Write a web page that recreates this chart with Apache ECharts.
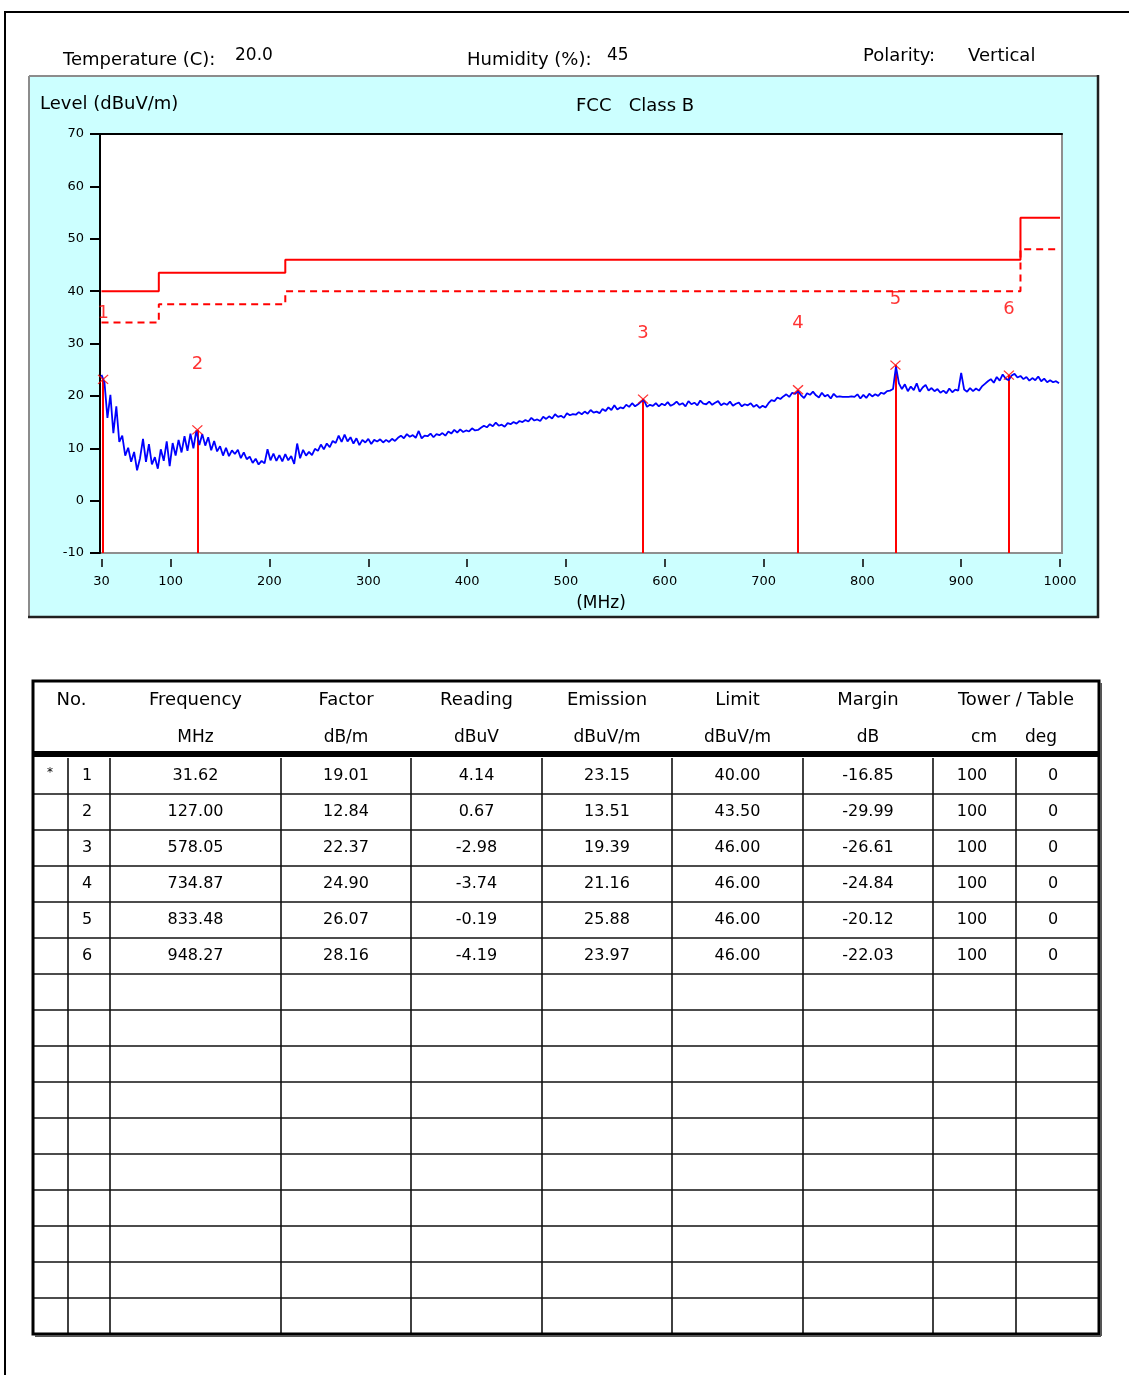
<!DOCTYPE html>
<html>
<head>
<meta charset="utf-8">
<title>Radiated Emission 30-1000 MHz</title>
<script src="https://cdn.jsdelivr.net/npm/echarts@6.0.0/dist/echarts.min.js"></script>
<style>
  html, body { margin: 0; padding: 0; background: #ffffff; }
  #main { width: 1129px; height: 1375px; }
</style>
</head>
<body>
<div id="main"></div>
<script>
// ---- test conditions ----
const temperatureC = '20.0';
const humidityPct = '45';
const polarity = 'Vertical';
const limitTitle = 'FCC   Class B';
const yAxisTitle = 'Level (dBuV/m)';
const xAxisTitle = '(MHz)';

// ---- FCC Class B limit: band edges (MHz) and levels (dBuV/m) ----
const limitEdges = [30, 88, 216, 960, 1000];
const limitLevels = [40, 43.5, 46, 54];
const limitMinus6 = [34, 37.5, 40, 48];

// ---- axis ticks ----
const xTicks = [30, 100, 200, 300, 400, 500, 600, 700, 800, 900, 1000];

// ---- peak list ----
const peakNo = [1, 2, 3, 4, 5, 6];
const peakFreq = [31.62, 127.00, 578.05, 734.87, 833.48, 948.27];
const peakFactor = [19.01, 12.84, 22.37, 24.90, 26.07, 28.16];
const peakReading = [4.14, 0.67, -2.98, -3.74, -0.19, -4.19];
const peakEmission = [23.15, 13.51, 19.39, 21.16, 25.88, 23.97];
const peakLimit = [40.00, 43.50, 46.00, 46.00, 46.00, 46.00];
const peakMargin = [-16.85, -29.99, -26.61, -24.84, -20.12, -22.03];
const peakTower = [100, 100, 100, 100, 100, 100];
const peakTurntable = [0, 0, 0, 0, 0, 0];
const worstPeakFlag = ['*', '', '', '', '', ''];
const emptyRows = 10;

// ---- table headings ----
const headTop = ['No.', 'Frequency', 'Factor', 'Reading', 'Emission', 'Limit', 'Margin', 'Tower / Table'];
const headUnits = ['MHz', 'dB/m', 'dBuV', 'dBuV/m', 'dBuV/m', 'dB', 'cm', 'deg'];

// ---- measured sweep: one reading every 3 MHz from 30 MHz ----
const sweepStartMHz = 30;
const sweepStepMHz = 3;
const sweepLevel = [
  24.0, 22.6, 15.8, 20.2, 12.9, 18.0, 11.2, 12.4, 8.6, 10.1,
  7.4, 9.3, 5.8, 8.1, 11.8, 7.4, 10.8, 6.9, 8.3, 6.1,
  9.8, 7.6, 11.3, 6.6, 11.0, 8.6, 11.6, 9.2, 12.3, 9.5,
  12.8, 10.0, 13.4, 10.6, 12.7, 10.5, 12.1, 9.6, 11.4, 9.4,
  10.4, 8.6, 10.1, 8.5, 9.6, 8.9, 9.7, 8.1, 9.2, 7.9,
  8.4, 7.2, 8.0, 6.9, 7.6, 7.1, 9.8, 7.7, 9.0, 7.6,
  8.7, 7.5, 8.9, 7.7, 8.5, 7.0, 10.9, 8.1, 9.7, 8.6,
  9.3, 8.7, 9.9, 9.5, 10.7, 9.8, 10.9, 10.2, 11.4, 11.0,
  12.4, 11.2, 12.6, 11.3, 12.1, 10.9, 11.9, 10.6, 11.6, 11.1,
  11.8, 10.8, 11.6, 11.3, 11.7, 11.1, 11.6, 11.2, 11.8, 11.4,
  12.0, 12.4, 11.9, 12.7, 12.2, 12.5, 12.0, 13.3, 11.9, 12.4,
  12.3, 12.8, 12.1, 12.7, 12.5, 12.9, 12.4, 13.2, 12.8, 13.5,
  13.0, 13.6, 13.1, 13.4, 13.2, 13.8, 13.4, 13.5, 13.9, 14.3,
  14.0, 14.6, 14.2, 14.9, 14.3, 14.5, 14.1, 14.8, 14.6, 15.0,
  14.7, 15.2, 15.0, 15.4, 15.1, 15.8, 15.3, 15.5, 15.2, 16.0,
  15.6, 16.1, 15.7, 16.5, 16.0, 16.2, 15.8, 16.7, 16.3, 16.5,
  16.4, 16.9, 16.5, 17.0, 16.6, 17.3, 16.8, 17.0, 16.7, 17.5,
  17.1, 17.8, 17.3, 18.2, 17.4, 17.8, 17.6, 18.3, 17.9, 18.6,
  18.0, 18.4, 18.9, 19.2, 17.9, 18.3, 18.1, 18.6, 18.0, 18.5,
  18.2, 18.8, 18.1, 18.4, 18.9, 18.3, 18.6, 18.0, 19.0, 18.4,
  18.7, 18.2, 19.1, 18.5, 18.4, 18.9, 18.3, 18.7, 19.0, 18.2,
  18.6, 18.3, 18.9, 18.1, 18.5, 18.7, 18.0, 18.4, 18.2, 18.6,
  17.9, 18.3, 17.7, 18.1, 17.8, 18.6, 19.2, 19.0, 19.7, 19.4,
  19.9, 20.3, 19.8, 20.6, 20.4, 20.9, 20.1, 19.6, 20.5, 20.2,
  20.8, 20.1, 19.7, 20.6, 19.9, 20.2, 19.5, 20.4, 19.8, 19.9,
  19.8, 19.8, 19.8, 19.9, 19.8, 20.3, 19.5, 20.2, 19.6, 20.4,
  19.9, 20.3, 20.0, 20.6, 20.4, 20.9, 21.0, 21.3, 25.6, 22.4,
  21.3, 22.2, 20.9, 21.8, 21.1, 22.4, 20.8, 21.6, 22.1, 21.0,
  21.5, 20.9, 21.3, 20.6, 21.0, 20.5, 21.4, 20.7, 21.2, 21.0,
  24.4, 21.2, 20.8, 21.5, 20.9, 21.4, 21.0, 21.8, 22.3, 22.8,
  23.2, 22.5, 23.6, 22.9, 24.1, 23.3, 23.0, 23.9, 24.2, 23.5,
  23.8, 23.2, 23.6, 22.9, 23.4, 23.0, 23.7, 22.8, 23.3, 22.6,
  23.0, 22.6, 22.8, 22.4
];

// ---------------------------------------------------------------
const FONT = '"DejaVu Sans", "Liberation Sans", sans-serif';
const RED = '#ff0000';
const WORD_SIZE = 18;
const NUM_SIZE = 16;

function stepLine(edges, levels) {
  const pts = [];
  for (let i = 0; i < levels.length; i++) {
    pts.push([edges[i], levels[i]]);
    pts.push([edges[i + 1], levels[i]]);
  }
  return pts;
}

function txt(text, x, y, size, opts) {
  opts = opts || {};
  return {
    type: 'text',
    silent: true,
    z: 20,
    style: {
      text: text,
      x: x,
      y: y,
      fill: opts.fill || '#000000',
      fontSize: size,
      fontFamily: FONT,
      align: opts.align || 'left',
      verticalAlign: 'middle',
      textAlign: opts.align || 'left',
      textVerticalAlign: 'middle'
    }
  };
}

function line(x1, y1, x2, y2, color, width, z) {
  return {
    type: 'line',
    silent: true,
    z: z === undefined ? 20 : z,
    shape: { x1: x1, y1: y1, x2: x2, y2: y2 },
    style: { stroke: color, lineWidth: width }
  };
}

const graphics = [];

// page frame
graphics.push({
  type: 'polyline', silent: true, z: 1,
  shape: { points: [[5, 1375], [5, 12], [1129, 12]] },
  style: { stroke: '#000000', lineWidth: 2, fill: null }
});

// chart panel
graphics.push({
  type: 'rect', silent: true, z: -10,
  shape: { x: 29, y: 76, width: 1069, height: 541 },
  style: { fill: '#ccffff' }
});
graphics.push(line(29, 76, 1098, 76, '#8c8c8c', 2, 1));
graphics.push(line(29, 76, 29, 617, '#8c8c8c', 2, 1));
graphics.push(line(1098, 75, 1098, 618, '#202020', 2.5, 1));
graphics.push(line(28, 617, 1099, 617, '#202020', 2.5, 1));

// test conditions
graphics.push(txt('Temperature (C):', 63, 60, WORD_SIZE));
graphics.push(txt(temperatureC, 235, 56, 17));
graphics.push(txt('Humidity (%):', 467, 60, WORD_SIZE));
graphics.push(txt(humidityPct, 607, 56, 17));
graphics.push(txt('Polarity:', 863, 56, WORD_SIZE));
graphics.push(txt(polarity, 968, 56, WORD_SIZE));
graphics.push(txt(yAxisTitle, 40, 104, WORD_SIZE));
graphics.push(txt(limitTitle, 576, 106, WORD_SIZE));
graphics.push(txt(xAxisTitle, 601, 604, 17, { align: 'center' }));

// ---- peak table ----
const colX = [33, 68, 110, 281, 411, 542, 672, 803, 933, 1016, 1099];
const tableTop = 681;
const bodyTop = 758;
const rowH = 36;
const nRows = peakNo.length + emptyRows;
const tableBottom = bodyTop + nRows * rowH;
const colMid = (a, b) => (colX[a] + colX[b]) / 2;

// header texts
const headTopX = [colMid(0, 2), colMid(2, 3), colMid(3, 4), colMid(4, 5), colMid(5, 6), colMid(6, 7), colMid(7, 8), colMid(8, 10)];
headTop.forEach((t, i) => graphics.push(txt(t, headTopX[i], 700, WORD_SIZE, { align: 'center' })));
const headUnitX = [colMid(2, 3), colMid(3, 4), colMid(4, 5), colMid(5, 6), colMid(6, 7), colMid(7, 8), 984, 1041];
headUnits.forEach((t, i) => graphics.push(txt(t, headUnitX[i], 738, 17, { align: 'center' })));

// header / body separator
graphics.push({
  type: 'rect', silent: true, z: 20,
  shape: { x: colX[0], y: 751, width: colX[10] - colX[0], height: 6 },
  style: { fill: '#000000' }
});

// body grid
for (let r = 1; r < nRows; r++) {
  const y = bodyTop + r * rowH;
  graphics.push(line(colX[0], y, colX[10], y, '#111111', 1.6));
}
for (let c = 1; c < colX.length - 1; c++) {
  graphics.push(line(colX[c], bodyTop, colX[c], tableBottom, '#111111', 1.6));
}
// outer border
graphics.push({
  type: 'rect', silent: true, z: 21,
  shape: { x: colX[0], y: tableTop, width: colX[10] - colX[0], height: tableBottom - tableTop },
  style: { fill: null, stroke: '#000000', lineWidth: 3 }
});
graphics.push(line(colX[0] + 2, tableBottom + 2, colX[10] + 2, tableBottom + 2, '#555555', 2, 21));
graphics.push(line(colX[10] + 2, tableTop + 2, colX[10] + 2, tableBottom + 2, '#555555', 2, 21));

// body values
peakNo.forEach((n, i) => {
  const y = bodyTop + i * rowH + rowH / 2;
  if (worstPeakFlag[i]) graphics.push(txt(worstPeakFlag[i], 50, y - 3, 12, { align: 'center' }));
  const cells = [
    String(n),
    peakFreq[i].toFixed(2),
    peakFactor[i].toFixed(2),
    peakReading[i].toFixed(2),
    peakEmission[i].toFixed(2),
    peakLimit[i].toFixed(2),
    peakMargin[i].toFixed(2),
    String(peakTower[i]),
    String(peakTurntable[i])
  ];
  cells.forEach((t, c) => {
    let x = colMid(c + 1, c + 2);
    if (c === 0) x = 87;
    if (c === 7) x = 972;
    if (c === 8) x = 1053;
    graphics.push(txt(t, x, y, NUM_SIZE, { align: 'center' }));
  });
});

// ---------------------------------------------------------------
const sweepData = sweepLevel.map((v, i) => [sweepStartMHz + i * sweepStepMHz, v]);
const peakData = peakFreq.map((f, i) => [f, peakEmission[i]]);
const peakStems = peakFreq.map((f, i) => [{ coord: [f, -10] }, { coord: [f, peakEmission[i]] }]);

const chart = echarts.init(document.getElementById('main'), null, { renderer: 'canvas' });

chart.setOption({
  animation: false,
  backgroundColor: '#ffffff',
  textStyle: { fontFamily: FONT },
  grid: {
    left: 100, top: 134, width: 962, height: 419,
    show: true, backgroundColor: '#ffffff',
    borderColor: '#8f8f8f', borderWidth: 2, z: 0
  },
  xAxis: [
    {
      type: 'value', min: 28.48, max: 1002.02, offset: 6,
      axisLine: { show: false, onZero: false },
      axisTick: { show: true, length: 8, customValues: xTicks, lineStyle: { color: '#000', width: 1.5 } },
      axisLabel: {
        customValues: xTicks, margin: 16, color: '#000', fontSize: 13, fontFamily: FONT,
        formatter: (v) => String(v)
      },
      splitLine: { show: false }
    },
    {
      type: 'value', position: 'top', min: 28.48, max: 1002.02,
      axisLine: { show: true, onZero: false, lineStyle: { color: '#000', width: 2 } },
      axisTick: { show: false }, axisLabel: { show: false }, splitLine: { show: false }
    }
  ],
  yAxis: {
    type: 'value', min: -10, max: 70, interval: 10,
    axisLine: { show: true, onZero: false, lineStyle: { color: '#000', width: 2 } },
    axisTick: { show: true, length: 10, lineStyle: { color: '#000', width: 2 } },
    axisLabel: { margin: 16, color: '#000', fontSize: 13, fontFamily: FONT },
    splitLine: { show: false }
  },
  series: [
    {
      name: 'Limit', type: 'line', data: stepLine(limitEdges, limitLevels),
      symbol: 'none', z: 2,
      lineStyle: { color: RED, width: 2 }
    },
    {
      name: 'Limit -6 dB', type: 'line', data: stepLine(limitEdges, limitMinus6),
      symbol: 'none', z: 2,
      lineStyle: { color: RED, width: 2, type: [7, 5] }
    },
    {
      name: 'Peaks', type: 'scatter', data: peakData, z: 5,
      symbol: 'path://M0,0L10,9M10,0L0,9', symbolSize: [10, 9],
      itemStyle: { color: 'rgba(0,0,0,0)', borderColor: RED, borderWidth: 1.3 },
      label: {
        show: true, position: 'inside', offset: [0, -66],
        formatter: (p) => String(peakNo[p.dataIndex]),
        color: RED, fontSize: 18, fontFamily: FONT
      },
      markLine: {
        silent: true, symbol: ['none', 'none'], z: 1,
        label: { show: false },
        lineStyle: { color: RED, width: 2, type: 'solid' },
        data: peakStems
      }
    },
    {
      name: 'Level', type: 'line', data: sweepData,
      symbol: 'none', z: 3,
      lineStyle: { color: '#0000ff', width: 1.8 }
    }
  ],
  graphic: graphics
});
</script>
</body>
</html>
